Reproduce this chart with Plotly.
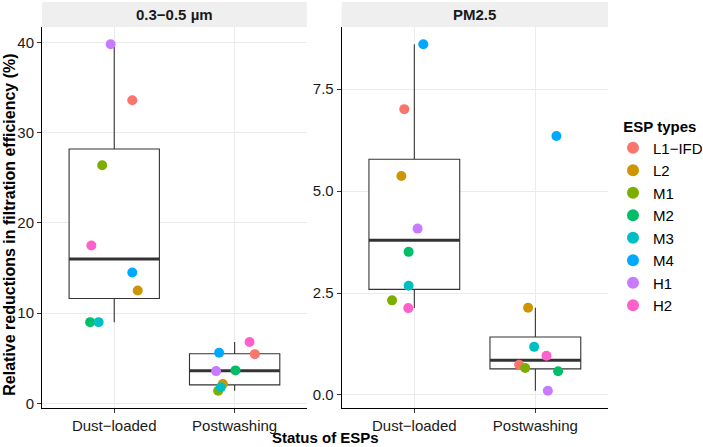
import numpy as np
import plotly.graph_objects as go

# ---------------- data ----------------
esp_types = ["L1−IFD", "L2", "M1", "M2", "M3", "M4", "H1", "H2"]
statuses = ["Dust−loaded", "Postwashing"]
panels = ["0.3−0.5 µm", "PM2.5"]

# values in esp_types order
pm03_dust = [33.6, 12.5, 26.4, 9.0, 9.0, 14.5, 39.8, 17.5]
pm03_post = [5.45, 2.14, 1.40, 3.65, 1.77, 5.60, 3.57, 6.80]
pm25_dust = [7.01, 5.37, 2.32, 3.51, 2.68, 8.60, 4.08, 2.13]
pm25_post = [0.74, 2.14, 0.66, 0.58, 1.18, 6.35, 0.105, 0.96]

y_ticks_03 = [0, 10, 20, 30, 40]
y_ticks_25 = [0.0, 2.5, 5.0, 7.5]

# ---------------- styling ----------------
colors = ["#F8766D", "#CD9600", "#7CAE00", "#00BE67", "#00BFC4", "#00A9FF", "#C77CFF", "#FF61CC"]
# horizontal jitter offsets (category units) per esp type
jit_03_dust = [0.15, 0.195, -0.10, -0.20, -0.13, 0.15, -0.03, -0.19]
jit_03_post = [0.168, -0.098, -0.137, 0.007, -0.115, -0.129, -0.154, 0.124]
jit_25_dust = [-0.083, -0.107, -0.184, -0.047, -0.047, 0.074, 0.027, -0.05]
jit_25_post = [-0.134, -0.06, -0.084, 0.188, -0.01, 0.174, 0.103, 0.092]

FONT = "Liberation Sans, Arial, sans-serif"
BOXW = 0.75
W, H = 703, 447
ML, MR, MT, MB = 42, 95, 27, 39
PW, PH = W - ML - MR, H - MT - MB

panel_data = [
    (pm03_dust, pm03_post, jit_03_dust, jit_03_post, y_ticks_03, "x", "y", "{:.0f}"),
    (pm25_dust, pm25_post, jit_25_dust, jit_25_post, y_ticks_25, "x2", "y2", "{:.1f}"),
]

fig = go.Figure()


def box_stats(vals):
    v = np.asarray(vals, dtype=float)
    q1, med, q3 = np.percentile(v, [25, 50, 75])
    iqr = q3 - q1
    lo = v[v >= q1 - 1.5 * iqr].min()
    hi = v[v <= q3 + 1.5 * iqr].max()
    return q1, med, q3, lo, hi


for pi, (dust, post, jd, jp, yt, xa, ya, fmt) in enumerate(panel_data):
    stats = [box_stats(dust), box_stats(post)]
    fig.add_trace(go.Box(
        x=[1, 2],
        q1=[s[0] for s in stats], median=[s[1] for s in stats], q3=[s[2] for s in stats],
        lowerfence=[s[3] for s in stats], upperfence=[s[4] for s in stats],
        width=BOXW, whiskerwidth=0, boxpoints=False,
        fillcolor="white", line=dict(color="#333333", width=1.1),
        showlegend=False, hoverinfo="skip", xaxis=xa, yaxis=ya,
    ))
    for ci, s in enumerate(stats):
        fig.add_trace(go.Scatter(
            x=[ci + 1 - BOXW / 2, ci + 1 + BOXW / 2], y=[s[1], s[1]],
            mode="lines", line=dict(color="#333333", width=3),
            showlegend=False, hoverinfo="skip", xaxis=xa, yaxis=ya,
        ))
    for ei, name in enumerate(esp_types):
        fig.add_trace(go.Scatter(
            x=[1 + jd[ei], 2 + jp[ei]], y=[dust[ei], post[ei]],
            mode="markers", marker=dict(color=colors[ei], size=10, line=dict(width=0)),
            name=name, legendgroup=name, showlegend=(pi == 0),
            xaxis=xa, yaxis=ya,
        ))

    allv = np.array(dust + post, dtype=float)
    span = allv.max() - allv.min()
    yr = [allv.min() - 0.05 * span, allv.max() + 0.05 * span]
    axis_common = dict(
        showline=True, linecolor="black", linewidth=1,
        ticks="outside", ticklen=4, tickcolor="#333333", tickwidth=1,
        showgrid=True, gridcolor="#EBEBEB", gridwidth=1, zeroline=False,
        tickfont=dict(family=FONT, size=15, color="#1A1A1A"),
        automargin=False,
    )
    xkey = "xaxis" if pi == 0 else "xaxis2"
    ykey = "yaxis" if pi == 0 else "yaxis2"
    fig.layout[xkey] = dict(
        axis_common, range=[0.4, 2.6], tickvals=[1, 2], ticktext=statuses,
        domain=[0, 0.468] if pi == 0 else [0.5295, 1], anchor=ya,
    )
    fig.layout[ykey] = dict(
        axis_common, range=yr, tickvals=yt, ticktext=[fmt.format(t) for t in yt],
        anchor=xa, domain=[0, 1],
    )
    # facet strip
    fig.add_shape(type="rect", xref=f"{xa} domain", yref="paper",
                  x0=0, x1=1, y0=1, y1=1 + 25 / PH,
                  fillcolor="#EFEFEF", line=dict(width=0), layer="below")
    fig.add_annotation(text=f"<b>{panels[pi]}</b>", xref=f"{xa} domain", yref="paper",
                       x=0.5, y=1 + 12.5 / PH, showarrow=False,
                       font=dict(family=FONT, size=15, color="#1A1A1A"),
                       xanchor="center", yanchor="middle")

fig.add_annotation(text="<b>Relative reductions in filtration efficiency (%)</b>",
                   xref="paper", yref="paper", x=(8.7 - ML) / PW, y=(408 - 225) / PH,
                   textangle=-90, showarrow=False, xanchor="center", yanchor="middle",
                   font=dict(family=FONT, size=16, color="black"))
fig.add_annotation(text="<b>Status of ESPs</b>",
                   xref="paper", yref="paper", x=0.5, y=-(437 - 408) / PH,
                   showarrow=False, xanchor="center", yanchor="middle",
                   font=dict(family=FONT, size=15, color="black"))

fig.update_layout(
    template="none",
    width=W, height=H,
    margin=dict(l=ML, r=MR, t=MT, b=MB, autoexpand=False),
    paper_bgcolor="white", plot_bgcolor="white",
    font=dict(family=FONT, size=15, color="black"),
    legend=dict(
        title=dict(text="&nbsp;&nbsp;<b>ESP types</b>", font=dict(family=FONT, size=15)),
        xref="container", yref="container",
        x=613 / W, xanchor="left", y=1 - 217 / H, yanchor="middle",
        font=dict(family=FONT, size=15, color="black"),
        itemsizing="constant", tracegroupgap=0, bgcolor="rgba(0,0,0,0)",
        borderwidth=0,
    ),
)

fig.write_html("out.html", config={"displayModeBar": False},
               post_script="document.body.style.margin='0';")
